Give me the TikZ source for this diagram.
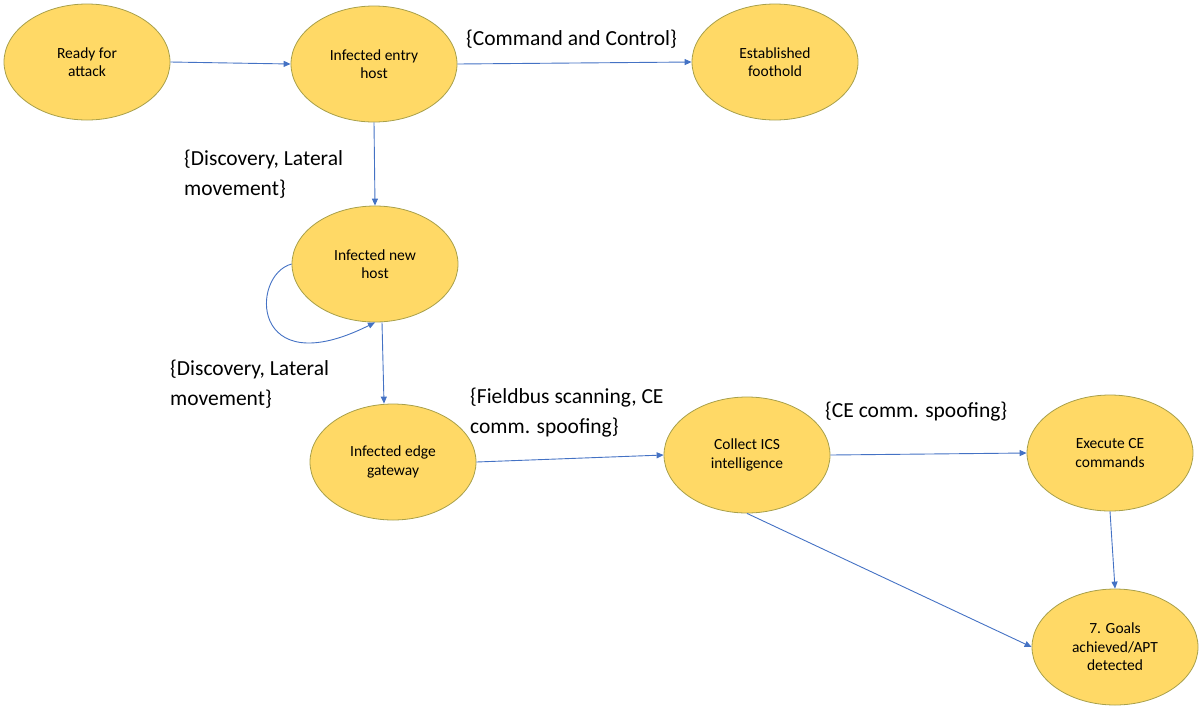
\documentclass[tikz,border=0pt]{standalone}
\usepackage{fontspec}
\setmainfont{Carlito}
\usetikzlibrary{arrows.meta,shapes.geometric}
\definecolor{stfill}{HTML}{FFD966}
\definecolor{stline}{HTML}{A8A04A}
\definecolor{arr}{HTML}{4472C4}
\begin{document}
\begin{tikzpicture}[x=1pt,y=-1pt,
  state/.style={ellipse,draw=stline,fill=stfill,line width=0.8pt,minimum width=166pt,minimum height=116pt,inner sep=0pt,align=center,font=\fontsize{15.5}{18.5}\selectfont},
  conn/.style={draw=arr,line width=0.9pt,-{Triangle[width=6pt,length=7pt]}},
  lbl/.style={font=\fontsize{21.5}{29.5}\selectfont,align=left,inner sep=0pt}]
\useasboundingbox (0,0) rectangle (1201,705);
\node[state] (ready) at (87,62) {Ready for\\attack};
\node[state] (entry) at (374,64) {Infected entry\\host};
\node[state] (foot) at (775,62) {Established\\foothold};
\node[state] (new) at (375,264) {Infected new\\host};
\node[state] (edge) at (393,462) {Infected edge\\gateway};
\node[state] (ics) at (747,455) {Collect ICS\\intelligence};
\node[state] (exec) at (1110,453) {Execute CE\\commands};
\node[state] (goal) at (1115,647) {7. Goals\\achieved/APT\\detected};

\draw[conn] (ready.east) -- (entry.west);
\draw[conn] (entry.east) -- (foot.west);
\draw[conn] (entry.south) -- (new.north);
\draw[conn] (new.west) .. controls (250,275) and (250,385) .. (new.south);
\draw[conn] ([xshift=7pt]new.south) -- ([xshift=-9pt]edge.north);
\draw[conn] (edge.east) -- (ics.west);
\draw[conn] (ics.east) -- (exec.west);
\draw[conn] (exec.south) -- (goal.north);
\draw[conn] (ics.south) -- (goal.west);

\node[lbl,anchor=west] (l1) at (466,39) {\{Command and Control\}};
\node[lbl,anchor=north west] (l2) at (184,150) {\{Discovery, Lateral\\movement\}};
\node[lbl,anchor=north west] (l3) at (170,360) {\{Discovery, Lateral\\movement\}};
\node[lbl,anchor=north west] (l4) at (470,388) {\{Fieldbus scanning, CE\\comm. spoofing\}};
\node[lbl,anchor=west] (l5) at (825,412) {\{CE comm. spoofing\}};
\end{tikzpicture}
\end{document}
